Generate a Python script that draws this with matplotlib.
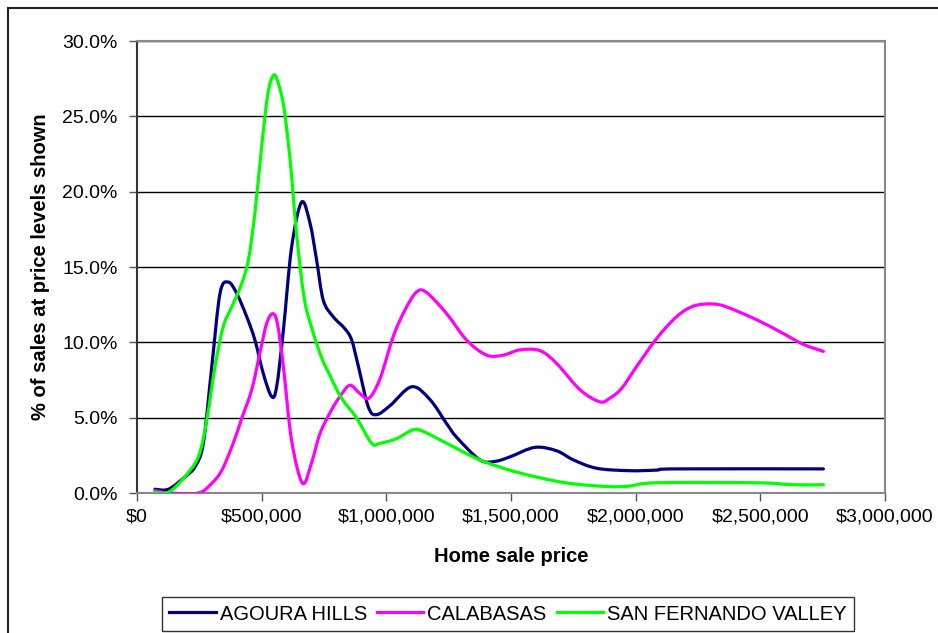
import matplotlib
matplotlib.use("Agg")
import matplotlib.pyplot as plt
from matplotlib.ticker import FuncFormatter, MultipleLocator
from matplotlib.lines import Line2D
from matplotlib.path import Path
from matplotlib.patches import PathPatch

plt.rcParams['font.family'] = ['Liberation Sans', 'DejaVu Sans']

# ---- data (price in $, share in %) ----
agoura_price = [72000, 126000, 193000, 233000, 266000, 300000, 333000, 366000, 400000,
                440000, 473000, 507000, 540000, 560000, 587000, 620000, 660000, 694000,
                720000, 747000, 787000, 834000, 861000, 888000, 928000, 961000, 1015000,
                1102000, 1175000, 1242000, 1282000, 1375000, 1436000, 1496000, 1596000,
                1683000, 1750000, 1844000, 1977000, 2084000, 2164000, 2753000]
agoura_pct = [0.25, 0.25, 1.08, 1.75, 3.3, 8.4, 13.25, 14.0, 13.25,
              11.7, 10.15, 7.9, 6.4, 7.05, 10.8, 16.3, 19.3, 17.9,
              15.5, 12.8, 11.7, 10.9, 10.15, 8.4, 5.7, 5.2, 5.8,
              7.05, 6.2, 4.6, 3.7, 2.2, 2.1, 2.4, 3.03,
              2.8, 2.2, 1.64, 1.48, 1.52, 1.6, 1.6]

calabasas_price = [72000, 130000, 246000, 300000, 340000, 386000, 420000, 460000, 493000,
                   520000, 544000, 563000, 587000, 620000, 664000, 700000, 734000, 780000,
                   814000, 854000, 894000, 931000, 975000, 1028000, 1075000, 1122000,
                   1162000, 1242000, 1322000, 1402000, 1469000, 1536000, 1616000, 1683000,
                   1777000, 1857000, 1897000, 1944000, 2004000, 2084000, 2164000, 2231000,
                   2305000, 2365000, 2485000, 2579000, 2672000, 2753000]
calabasas_pct = [0.15, 0.0, 0.0, 0.65, 1.5, 3.3, 4.95, 6.85, 9.3,
                 11.25, 11.9, 11.25, 8.4, 3.5, 0.65, 2.0, 3.95, 5.5,
                 6.4, 7.15, 6.6, 6.3, 7.6, 10.4, 12.15, 13.35,
                 13.3, 11.9, 10.15, 9.15, 9.15, 9.5, 9.45, 8.6,
                 6.85, 6.05, 6.3, 6.95, 8.4, 10.25, 11.7, 12.4,
                 12.55, 12.35, 11.5, 10.7, 9.87, 9.4]

sfv_price = [72000, 126000, 186000, 246000, 280000, 313000, 346000, 380000, 420000,
             447000, 473000, 500000, 525000, 549000, 570000, 590000, 614000, 640000,
             670000, 700000, 740000, 774000, 820000, 880000, 941000, 975000, 1040000,
             1108000, 1150000, 1242000, 1375000, 1520000, 1710000, 1883000, 1970000,
             2084000, 2485000, 2630000, 2753000]
sfv_pct = [0.05, 0.05, 0.97, 2.4, 4.85, 8.4, 11.05, 12.35, 13.9,
           15.5, 18.6, 23.0, 26.5, 27.75, 27.0, 25.5, 22.1, 17.2,
           13.0, 11.0, 9.0, 7.8, 6.3, 5.0, 3.3, 3.3, 3.6,
           4.2, 4.07, 3.3, 2.2, 1.4, 0.7, 0.43, 0.45,
           0.68, 0.68, 0.55, 0.55]

series = [
    ("AGOURA HILLS", agoura_price, agoura_pct, "#000080"),
    ("CALABASAS", calabasas_price, calabasas_pct, "#FF00FF"),
    ("SAN FERNANDO VALLEY", sfv_price, sfv_pct, "#00FF00"),
]


def smooth_path(xs, ys):
    """Excel-style smoothed line: cubic Bezier segments through the data points."""
    n = len(xs)
    verts = [(xs[0], ys[0])]
    codes = [Path.MOVETO]
    for i in range(n - 1):
        i0 = max(i - 1, 0)
        i3 = min(i + 2, n - 1)
        c1 = (xs[i] + (xs[i + 1] - xs[i0]) / 6.0, ys[i] + (ys[i + 1] - ys[i0]) / 6.0)
        c2 = (xs[i + 1] - (xs[i3] - xs[i]) / 6.0, ys[i + 1] - (ys[i3] - ys[i]) / 6.0)
        verts += [c1, c2, (xs[i + 1], ys[i + 1])]
        codes += [Path.CURVE4] * 3
    return Path(verts, codes)


fig = plt.figure(figsize=(9.38, 6.33), dpi=100)
ax = fig.add_axes([137/938, 1 - 493/633, (885-137)/938, (493-41)/633])

for name, xs, ys, col in series:
    patch = PathPatch(smooth_path(xs, ys), facecolor='none', edgecolor=col, lw=2.3,
                      joinstyle='round', capstyle='round', zorder=3)
    ax.add_patch(patch)

ax.set_xlim(0, 3000000)
ax.set_ylim(0, 30)
ax.xaxis.set_major_locator(MultipleLocator(500000))
ax.yaxis.set_major_locator(MultipleLocator(5))
ax.xaxis.set_major_formatter(FuncFormatter(lambda v, p: "${:,.0f}".format(v)))
ax.yaxis.set_major_formatter(FuncFormatter(lambda v, p: "{:.1f}%".format(v)))
ax.grid(axis='y', color='black', lw=1.0, zorder=1)
ax.tick_params(axis='both', direction='out', length=6, width=1.0, color='#555555',
               labelsize=14, pad=5)
ax.tick_params(axis='y', pad=8)
for s in ['top', 'right']:
    ax.spines[s].set_color('#888888')
    ax.spines[s].set_linewidth(1.5)
ax.spines['left'].set_color('#333333')
ax.spines['left'].set_linewidth(1.5)
ax.spines['bottom'].set_color('#888888')
ax.spines['bottom'].set_linewidth(1.5)

ax.set_xlabel("Home sale price", fontsize=14.5, fontweight='bold', labelpad=16)
ax.set_ylabel("% of sales at price levels shown", fontsize=14.5, fontweight='bold', labelpad=9)

handles = [Line2D([0], [0], color=c, lw=2.3) for _, _, _, c in series]
labels = [n for n, _, _, _ in series]
leg = fig.legend(handles, labels, loc='center', bbox_to_anchor=(508/938, 1 - 614/633),
                 ncol=3, fontsize=14.5, frameon=True, fancybox=False, edgecolor='black',
                 handlelength=2.3, handletextpad=0.2, columnspacing=0.5,
                 borderpad=0.35, borderaxespad=0)
leg.get_frame().set_linewidth(1.0)

# outer chart-area border (partially visible)
fig.add_artist(Line2D([8/938, 8/938], [0, 1 - 8/633], color='#222222', lw=1.5,
                      transform=fig.transFigure))
fig.add_artist(Line2D([8/938, 1], [1 - 8/633, 1 - 8/633], color='#222222', lw=1.5,
                      transform=fig.transFigure))

fig.savefig("out.png", dpi=100)
